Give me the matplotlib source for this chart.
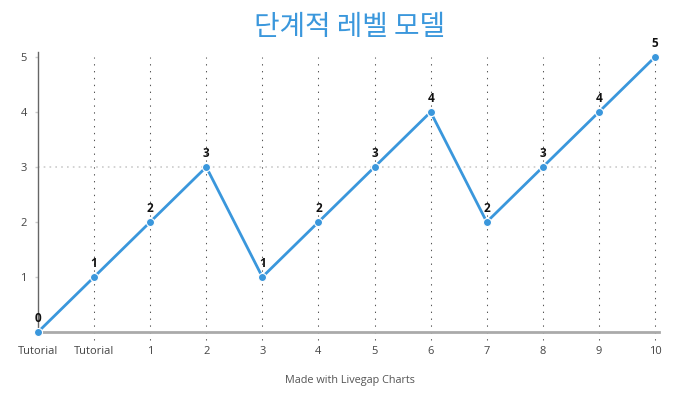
import matplotlib
matplotlib.use("Agg")
import matplotlib.pyplot as plt

labels = ["Tutorial", "Tutorial", "1", "2", "3", "4", "5", "6", "7", "8", "9", "10"]
values = [0, 1, 2, 3, 1, 2, 3, 4, 2, 3, 4, 5]
title = "단계적 레벨 모델"
credit = "Made with Livegap Charts"

plt.rcParams['font.family'] = ['Open Sans', 'DejaVu Sans']
color = "#3a97dc"

fig = plt.figure(figsize=(7, 4), dpi=100)
ax = fig.add_axes([38/700, 1-332/400, (655-38)/700, (332-57)/400])
x = list(range(len(values)))
ax.plot(x, values, color=color, lw=2, zorder=3, clip_on=False, solid_capstyle='butt')
ax.plot(x, values, ls='none', marker='o', ms=5.8, mec='white', mew=0.8, mfc=color, zorder=4, clip_on=False)
for xi, v in zip(x, values):
    ax.annotate(str(v), (xi, v), xytext=(0, 5), textcoords='offset points', ha='center', va='bottom',
                fontsize=8.5, fontweight='bold', color='#111111')

ax.set_xlim(0, len(values) - 1)
ax.set_ylim(0, 5)
ax.set_xticks(x)
ax.set_xticklabels(labels)
ax.set_yticks([1, 2, 3, 4, 5])
ax.tick_params(axis='x', length=0, pad=10, labelsize=8, labelcolor='#444444')
ax.tick_params(axis='y', length=2, width=1, color='#cccccc', pad=6, labelsize=8, labelcolor='#444444')

for sp in ['top', 'right']:
    ax.spines[sp].set_visible(False)
ax.spines['left'].set_color('#666666')
ax.spines['left'].set_linewidth(1)
ax.spines['left'].set_bounds(0, 5.1)
ax.spines['bottom'].set_color('#aaaaaa')
ax.spines['bottom'].set_linewidth(2)
ax.spines['bottom'].set_bounds(0, len(values) - 1 + 0.08)

trans = ax.get_xaxis_transform()
for xi in x[1:]:
    ax.plot([xi, xi], [-0.03, 1.0], transform=trans, color='#555555', lw=0.75, ls=(0, (1.3, 5.3)),
            clip_on=False, zorder=1)
ax.axhline(3, color='#cccccc', lw=1.2, ls=(0, (1, 2.5)), zorder=1, xmin=-0.01)

fig.text(0.5, 1 - 27/400, title, ha='center', va='center', fontsize=20, color=color,
         family=['Noto Sans CJK KR', 'DejaVu Sans'])
fig.text(0.5, 1 - 380/400, credit, ha='center', va='center', fontsize=7.8, color='#555555')

fig.savefig("out.png", dpi=100)
